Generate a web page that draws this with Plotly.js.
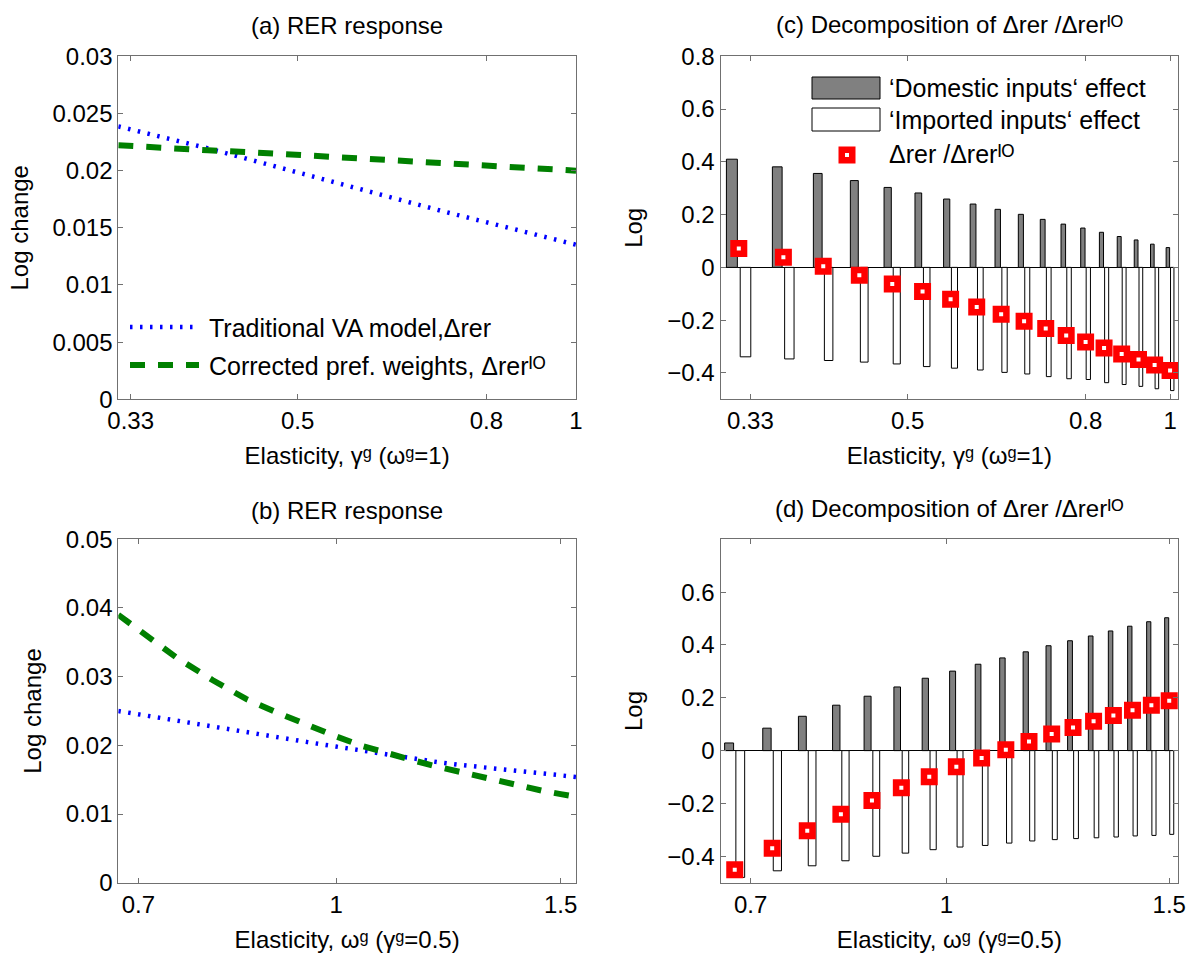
<!DOCTYPE html>
<html>
<head>
<meta charset="utf-8">
<script src="https://cdn.plot.ly/plotly-3.0.1.min.js"></script>
<style>html,body{margin:0;padding:0;background:#fff;}#chart{width:1186px;height:959px;}</style>
</head>
<body>
<div id="chart"></div>
<script>
// ---------------- data ----------------
// panel (a): RER response vs gamma (omega=1)
const gammaGrid = [0.32,0.36,0.40,0.44,0.48,0.52,0.56,0.60,0.64,0.68,0.72,0.76,0.80,0.84,0.88,0.92,0.96,1.00];
const rerVA_a = [0.02387,0.02289,0.02195,0.02105,0.02022,0.01946,0.01876,0.01810,0.01749,0.01694,0.01642,0.01594,0.01549,0.01506,0.01465,0.01426,0.01389,0.01352];
const rerIO_a = [0.02222,0.02194,0.02178,0.02163,0.02145,0.02131,0.02114,0.02099,0.02085,0.02073,0.02063,0.02052,0.02041,0.02030,0.02020,0.02012,0.02005,0.02000];

// panel (b): RER response vs omega (gamma=0.5)
const omegaLine = [0.675,0.70,0.75,0.80,0.85,0.90,0.95,1.00,1.05,1.10,1.15,1.20,1.25,1.30,1.35,1.40,1.45,1.50,1.542];
const rerVA_b = [0.02500,0.02452,0.02356,0.02260,0.02187,0.02117,0.02047,0.01982,0.01918,0.01862,0.01809,0.01757,0.01716,0.01685,0.01657,0.01628,0.01597,0.01566,0.01540];
const rerIO_b = [0.03900,0.03683,0.03276,0.02951,0.02676,0.02474,0.02293,0.02129,0.01987,0.01874,0.01780,0.01690,0.01610,0.01535,0.01465,0.01400,0.01340,0.01290,0.01252];

// panel (c): decomposition vs gamma
const domesticC = [0.410,0.381,0.356,0.329,0.303,0.282,0.259,0.240,0.220,0.201,0.182,0.164,0.149,0.133,0.117,0.104,0.088,0.075];
const importedC = [-0.339,-0.347,-0.353,-0.359,-0.366,-0.376,-0.382,-0.389,-0.398,-0.404,-0.414,-0.422,-0.425,-0.437,-0.444,-0.451,-0.460,-0.467];
const ratioC = [0.072,0.038,0.004,-0.030,-0.063,-0.091,-0.121,-0.150,-0.178,-0.204,-0.232,-0.258,-0.283,-0.306,-0.328,-0.349,-0.370,-0.391];

// panel (d): decomposition vs omega
const omegaGrid = [0.680,0.728,0.776,0.825,0.873,0.921,0.969,1.018,1.066,1.114,1.162,1.211,1.259,1.307,1.355,1.403,1.452,1.500];
const domesticD = [0.029,0.085,0.130,0.172,0.206,0.241,0.274,0.301,0.327,0.351,0.374,0.397,0.416,0.434,0.453,0.471,0.488,0.503];
const importedD = [-0.480,-0.455,-0.436,-0.417,-0.400,-0.388,-0.375,-0.365,-0.359,-0.350,-0.342,-0.337,-0.333,-0.330,-0.327,-0.323,-0.321,-0.317];
const ratioD = [-0.451,-0.370,-0.303,-0.241,-0.189,-0.141,-0.099,-0.061,-0.028,0.003,0.035,0.063,0.088,0.111,0.133,0.153,0.172,0.189];

// tick labels
const gammaTicks = [0.33,0.5,0.8,1];
const gammaTickText = ['0.33','0.5','0.8','1'];
const omegaTicks = [0.7,1,1.5];
const omegaTickText = ['0.7','1','1.5'];
const yTicksA = [0,0.005,0.01,0.015,0.02,0.025,0.03];
const yTickTextA = ['0','0.005','0.01','0.015','0.02','0.025','0.03'];
const yTicksB = [0,0.01,0.02,0.03,0.04,0.05];
const yTickTextB = ['0','0.01','0.02','0.03','0.04','0.05'];
const yTicksC = [-0.4,-0.2,0,0.2,0.4,0.6,0.8];
const yTickTextC = ['\u22120.4','\u22120.2','0','0.2','0.4','0.6','0.8'];
const yTicksD = [-0.4,-0.2,0,0.2,0.4,0.6];
const yTickTextD = ['\u22120.4','\u22120.2','0','0.2','0.4','0.6'];

// labels (superscripts as Unicode modifier letters)
const labelVA = 'Traditional VA model,\u0394rer';
const labelIO = 'Corrected pref. weights, \u0394rer\u1D35\u1D3C';
const labelDom = '\u2018Domestic inputs\u2018 effect';
const labelImp = '\u2018Imported inputs\u2018 effect';
const labelRatio = '\u0394rer /\u0394rer\u1D35\u1D3C';
const titleA = '(a) RER response';
const titleB = '(b) RER response';
const titleC = '(c) Decomposition of \u0394rer /\u0394rer\u1D35\u1D3C';
const titleD = '(d) Decomposition of \u0394rer /\u0394rer\u1D35\u1D3C';
const xLabelGamma = 'Elasticity, \u03b3\u1D4D (\u03c9\u1D4D=1)';
const xLabelOmega = 'Elasticity, \u03c9\u1D4D (\u03b3\u1D4D=0.5)';

// ---------------- styling ----------------
const W = 1186, H = 959;
const px = v => v / W;
const py = v => 1 - v / H;
const FONT = 'Liberation Sans, Arial, Helvetica, DejaVu Sans, sans-serif';
const FS = 24;
const AX = '#707070';
const BLUE = '#0000ff', GREEN = '#008000';
const dotLine = {color: BLUE, width: 4.5, dash: '2.5px,7.5px'};
const dashLine = {color: GREEN, width: 6, dash: '15px,13px'};
const markerSq = {symbol: 'square', size: 10.5, color: 'white', line: {color: '#ff0000', width: 6.5}};

const traces = [
  // (a)
  {type:'scatter', mode:'lines', x: gammaGrid, y: rerVA_a, line: dotLine, xaxis:'x', yaxis:'y', name: labelVA, showlegend:false},
  {type:'scatter', mode:'lines', x: gammaGrid, y: rerIO_a, line: dashLine, xaxis:'x', yaxis:'y', name: labelIO, showlegend:false},
  // (c)
  {type:'bar', x: gammaGrid, y: domesticC, offset: -0.0103, width: 0.0091, marker:{color:'#808080', line:{color:'#000', width:1}}, xaxis:'x2', yaxis:'y2', name: labelDom, showlegend:false},
  {type:'bar', x: gammaGrid, y: importedC, offset: 0.0012, width: 0.0091, marker:{color:'#ffffff', line:{color:'#000', width:1}}, xaxis:'x2', yaxis:'y2', name: labelImp, showlegend:false},
  {type:'scatter', mode:'markers', x: gammaGrid, y: ratioC, marker: markerSq, xaxis:'x2', yaxis:'y2', name: labelRatio, showlegend:false, cliponaxis:false},
  // (b)
  {type:'scatter', mode:'lines', x: omegaLine, y: rerVA_b, line: dotLine, xaxis:'x3', yaxis:'y3', name: labelVA, showlegend:false},
  {type:'scatter', mode:'lines', x: omegaLine, y: rerIO_b, line: dashLine, xaxis:'x3', yaxis:'y3', name: labelIO, showlegend:false},
  // (d)
  {type:'bar', x: omegaGrid, y: domesticD, offset: -0.0124, width: 0.0110, marker:{color:'#808080', line:{color:'#000', width:1}}, xaxis:'x4', yaxis:'y4', name: labelDom, showlegend:false},
  {type:'bar', x: omegaGrid, y: importedD, offset: 0.0014, width: 0.0110, marker:{color:'#ffffff', line:{color:'#000', width:1}}, xaxis:'x4', yaxis:'y4', name: labelImp, showlegend:false},
  {type:'scatter', mode:'markers', x: omegaGrid, y: ratioD, marker: markerSq, xaxis:'x4', yaxis:'y4', name: labelRatio, showlegend:false, cliponaxis:false}
];

function baseAxis(extra) {
  return Object.assign({
    showline: true, linecolor: AX, linewidth: 1, mirror: 'ticks',
    ticks: 'inside', ticklen: 5, tickcolor: AX, tickwidth: 1,
    showgrid: false, zeroline: false, automargin: false,
    tickfont: {family: FONT, size: 24, color: '#000'},
    ticklabeloverflow: 'allow',
    tickmode: 'array'
  }, extra);
}
const xDomL = [px(118.3), px(576)], xDomR = [px(720.5), px(1178.3)];
const yDomT = [py(399.3), py(56.3)], yDomB = [py(882.7), py(539.3)];
const L10 = Math.log10;
const tfont = {family: FONT, size: FS, color: '#000'};
const lfont = {family: FONT, size: 25, color: '#000'};

const layout = {
  width: W, height: H,
  margin: {l:0, r:0, t:0, b:0},
  paper_bgcolor: '#fff', plot_bgcolor: '#fff',
  font: {family: FONT, size: FS, color: '#000'},
  barmode: 'overlay',
  showlegend: false,
  xaxis: baseAxis({domain: xDomL, anchor:'y', type:'log', range:[L10(0.32), L10(1)], tickvals: gammaTicks, ticktext: gammaTickText, title:{text: xLabelGamma, font: tfont, standoff: 14}}),
  yaxis: baseAxis({domain: yDomT, anchor:'x', range:[0,0.03], tickvals: yTicksA, ticktext: yTickTextA, title:{text:'Log change', font: tfont, standoff: 17}}),
  xaxis2: baseAxis({domain: xDomR, anchor:'y2', type:'log', range:[L10(0.3049), L10(1.022)], tickvals: gammaTicks, ticktext: gammaTickText, title:{text: xLabelGamma, font: tfont, standoff: 14}}),
  yaxis2: baseAxis({domain: yDomT, anchor:'x2', range:[-0.5,0.8], tickvals: yTicksC, ticktext: yTickTextC, zeroline:true, zerolinecolor:'#000', zerolinewidth:1, title:{text:'Log', font: tfont, standoff: 17}}),
  xaxis3: baseAxis({domain: xDomL, anchor:'y3', type:'log', range:[L10(0.675), L10(1.542)], tickvals: omegaTicks, ticktext: omegaTickText, title:{text: xLabelOmega, font: tfont, standoff: 14}}),
  yaxis3: baseAxis({domain: yDomB, anchor:'x3', range:[0,0.05], tickvals: yTicksB, ticktext: yTickTextB, title:{text:'Log change', font: tfont, standoff: 17}}),
  xaxis4: baseAxis({domain: xDomR, anchor:'y4', type:'log', range:[L10(0.6626), L10(1.525)], tickvals: omegaTicks, ticktext: omegaTickText, title:{text: xLabelOmega, font: tfont, standoff: 14}}),
  yaxis4: baseAxis({domain: yDomB, anchor:'x4', range:[-0.5,0.8], tickvals: yTicksD, ticktext: yTickTextD, zeroline:true, zerolinecolor:'#000', zerolinewidth:1, title:{text:'Log', font: tfont, standoff: 17}}),
  annotations: [
    {text: titleA, x: px(347), y: py(26), xref:'paper', yref:'paper', xanchor:'center', yanchor:'middle', showarrow:false, font: tfont},
    {text: titleC, x: px(949), y: py(25), xref:'paper', yref:'paper', xanchor:'center', yanchor:'middle', showarrow:false, font: tfont},
    {text: titleB, x: px(347), y: py(510), xref:'paper', yref:'paper', xanchor:'center', yanchor:'middle', showarrow:false, font: tfont},
    {text: titleD, x: px(949), y: py(508), xref:'paper', yref:'paper', xanchor:'center', yanchor:'middle', showarrow:false, font: tfont},
    // legend (a)
    {text: labelVA, x: px(207), y: py(328), xref:'paper', yref:'paper', xanchor:'left', yanchor:'middle', showarrow:false, font: lfont},
    {text: labelIO, x: px(207), y: py(366), xref:'paper', yref:'paper', xanchor:'left', yanchor:'middle', showarrow:false, font: lfont},
    // legend (c)
    {text: labelDom, x: px(887), y: py(88), xref:'paper', yref:'paper', xanchor:'left', yanchor:'middle', showarrow:false, font: lfont},
    {text: labelImp, x: px(887), y: py(120), xref:'paper', yref:'paper', xanchor:'left', yanchor:'middle', showarrow:false, font: lfont},
    {text: labelRatio, x: px(887), y: py(154), xref:'paper', yref:'paper', xanchor:'left', yanchor:'middle', showarrow:false, font: lfont}
  ],
  shapes: [
    {type:'line', xref:'paper', yref:'paper', x0: px(130), x1: px(197), y0: py(327), y1: py(327), line: dotLine},
    {type:'line', xref:'paper', yref:'paper', x0: px(130), x1: px(199), y0: py(365), y1: py(365), line: dashLine},
    {type:'rect', xref:'paper', yref:'paper', x0: px(812), x1: px(880), y0: py(99), y1: py(77), fillcolor:'#808080', line:{color:'#000', width:1}},
    {type:'rect', xref:'paper', yref:'paper', x0: px(812), x1: px(880), y0: py(131), y1: py(108), fillcolor:'#ffffff', line:{color:'#000', width:1}},
    {type:'rect', xref:'paper', yref:'paper', x0: px(847-5.25), x1: px(847+5.25), y0: py(155+5.25), y1: py(155-5.25), fillcolor:'#ffffff', line:{color:'#ff0000', width:6.5}}
  ]
};

Plotly.newPlot('chart', traces, layout, {staticPlot: true, displayModeBar: false});
</script>
</body>
</html>
